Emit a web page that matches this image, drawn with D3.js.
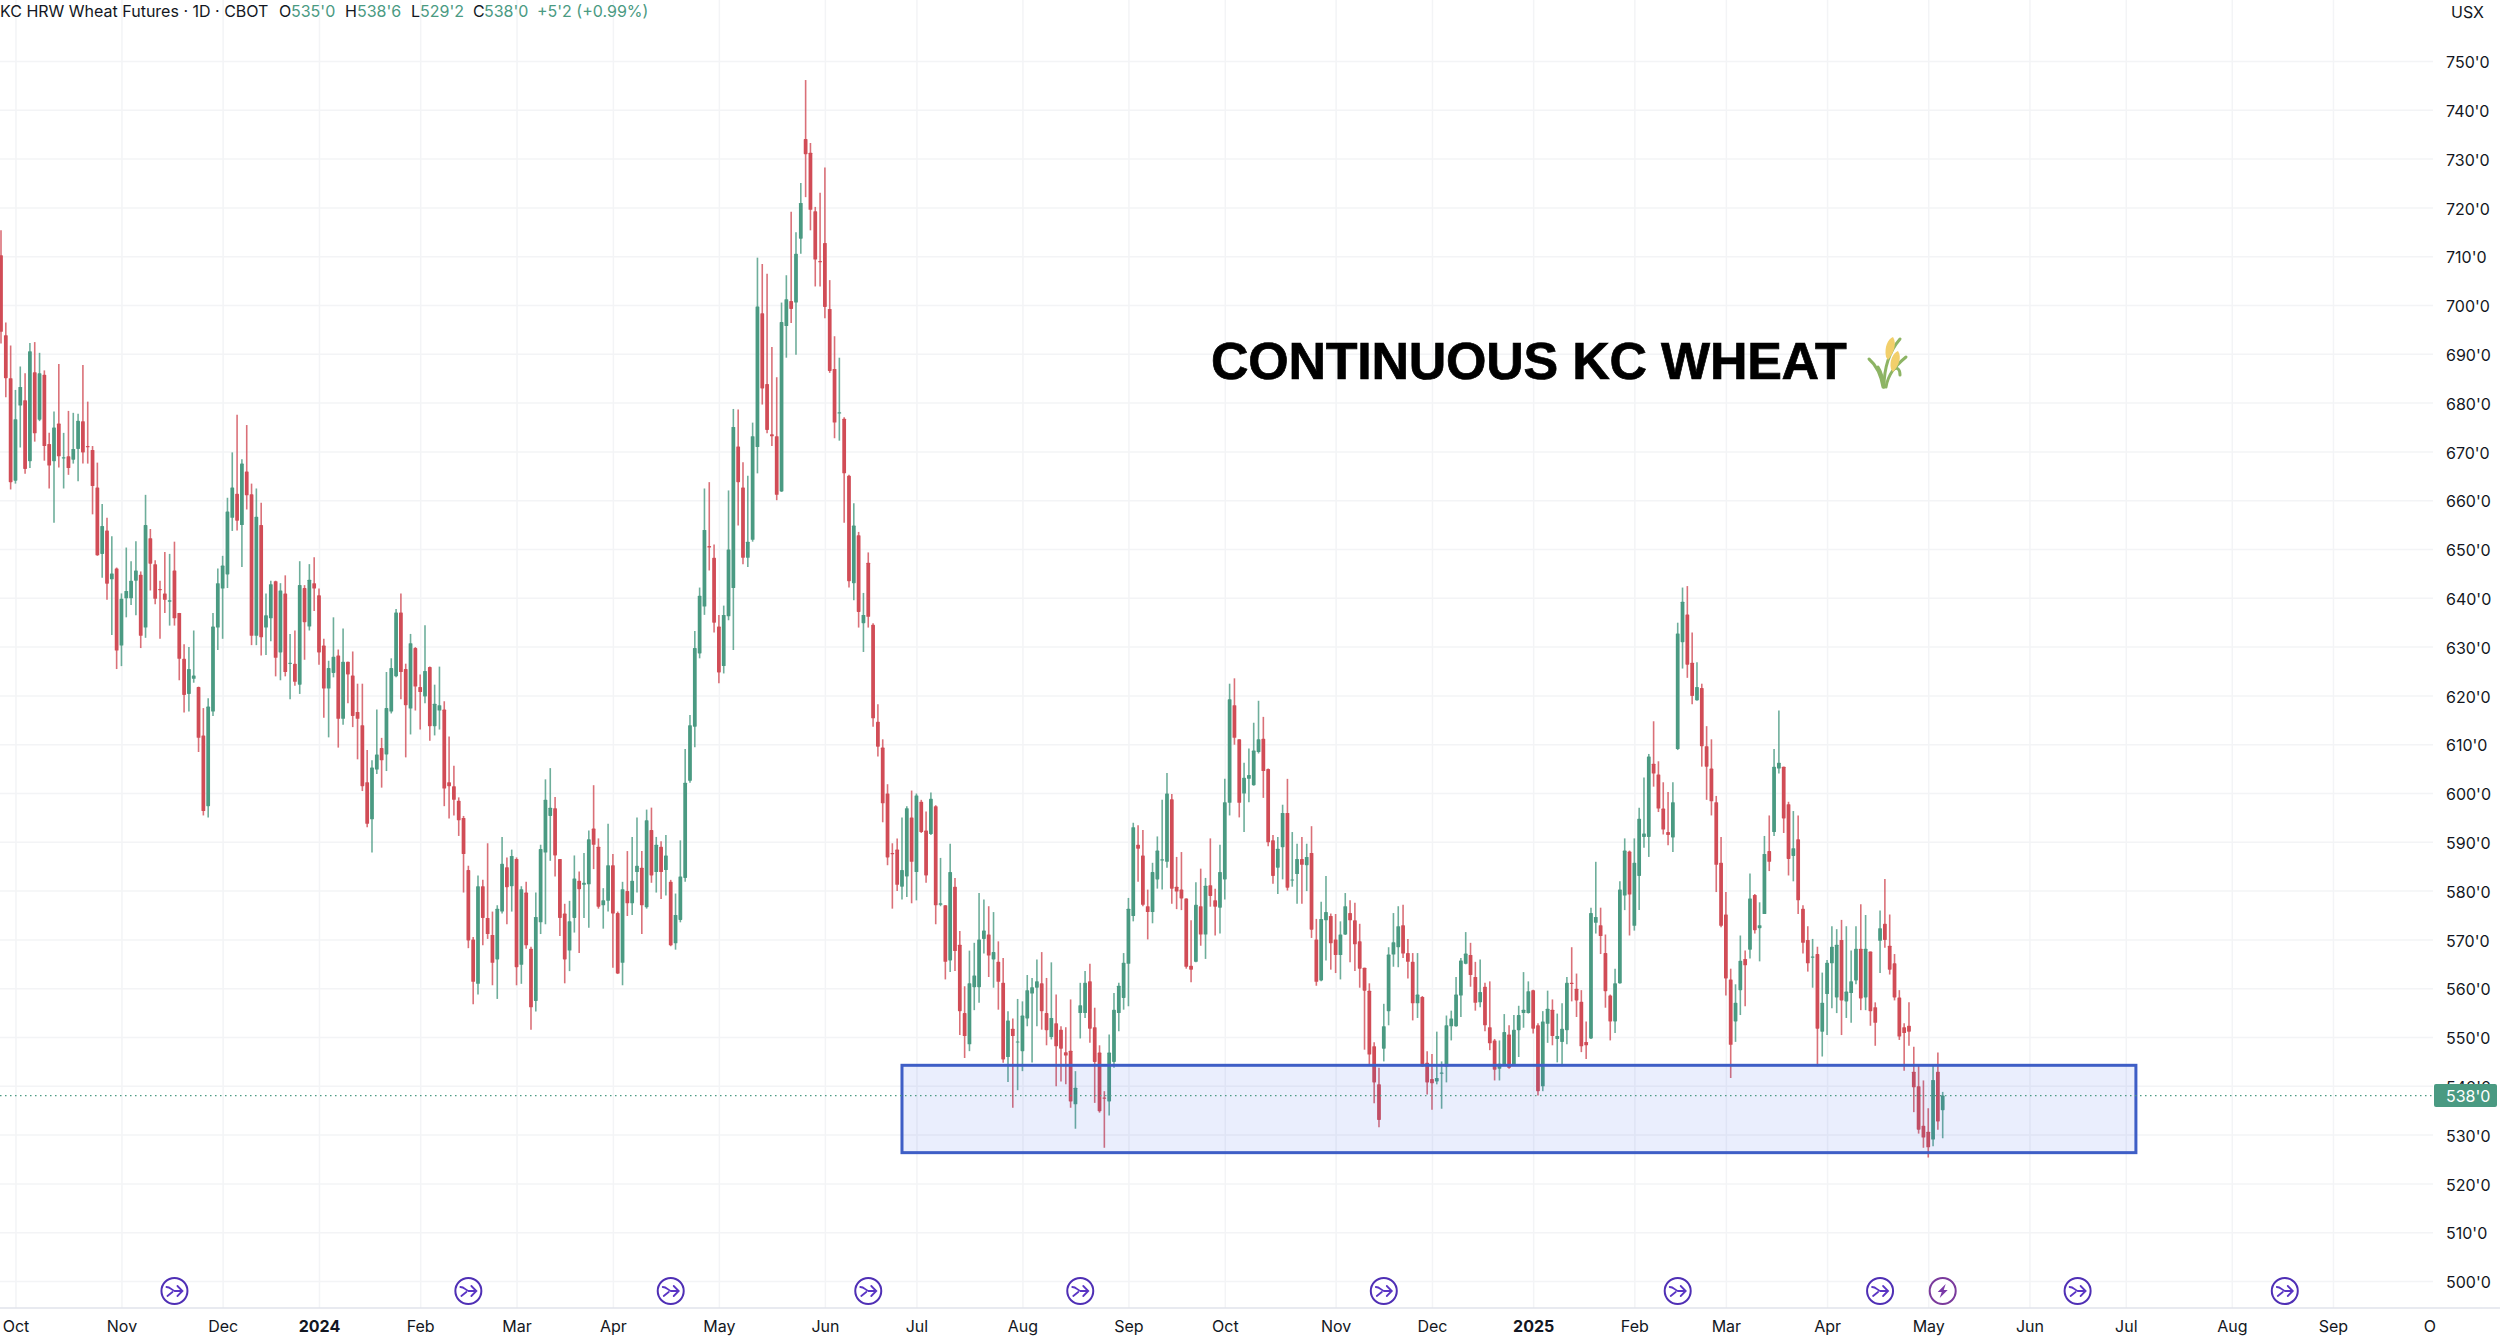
<!DOCTYPE html>
<html>
<head>
<meta charset="utf-8">
<title>Continuous KC Wheat</title>
<script src="https://d3js.org/d3.v7.min.js"></script>
<style>
  html, body { margin: 0; background: #fff; overflow: hidden; }
  svg { display: block; font-family: Inter, "Liberation Sans", sans-serif; }
</style>
</head>
<body>
<svg id="chart" width="2500" height="1339"></svg>
<script>
// daily candles
const opens = [
  710.2,693.8,685.0,664.0,679.4,680.5,668.0,686.2,676.5,685.7,
  671.5,668.0,675.7,668.6,669.0,668.3,670.5,676.2,671.1,670.3,
  662.6,649.0,653.8,643.8,646.0,630.2,639.9,639.9,643.5,644.7,
  633.9,652.2,646.9,641.8,640.9,639.2,645.6,636.9,627.5,620.3,
  623.4,621.7,611.8,597.3,616.7,633.9,641.9,644.8,656.4,661.3,
  654.9,665.9,661.2,632.2,654.9,633.9,635.8,643.4,628.8,640.9,
  626.5,626.5,622.2,642.0,634.1,643.0,640.5,630.2,621.4,624.6,
  628.2,615.2,626.9,624.1,616.6,613.9,602.2,594.6,604.8,609.2,
  607.9,616.7,623.9,637.0,625.4,617.3,629.7,621.7,619.8,625.8,
  613.7,616.9,617.1,602.2,601.4,598.4,594.9,584.2,570.0,560.9,
  580.9,574.4,570.9,565.9,575.7,584.8,580.9,586.5,564.8,579.6,
  568.1,557.4,573.5,587.8,595.3,596.9,586.5,575.3,567.7,574.4,
  582.0,581.2,581.3,592.7,589.0,577.0,577.9,585.2,575.4,565.2,
  579.9,577.4,583.8,584.7,576.6,592.4,583.8,589.0,584.2,581.8,
  569.2,574.0,582.6,602.5,613.6,628.6,638.2,650.6,648.2,634.1,
  626.0,636.2,642.0,671.0,662.6,648.2,651.9,670.9,698.3,683.8,
  673.5,673.1,661.8,695.7,700.8,700.5,713.6,734.0,731.2,719.2,
  709.0,712.7,699.2,686.9,677.8,676.7,665.0,643.0,652.8,634.8,
  647.2,634.5,614.6,609.3,599.9,587.7,588.4,580.8,582.9,595.0,
  583.8,598.2,592.3,591.6,597.3,577.1,577.0,565.7,580.8,568.9,
  554.9,548.5,560.2,560.2,570.1,571.0,565.9,565.4,561.1,545.9,
  551.7,549.0,547.1,553.8,558.9,560.1,561.0,554.9,550.0,552.8,
  551.5,546.9,547.2,536.2,554.9,554.9,561.4,552.0,546.8,537.6,
  536.8,544.9,554.9,558.0,565.0,574.8,589.4,587.2,576.8,575.6,
  582.3,586.2,585.9,598.7,580.8,580.2,578.4,564.6,565.4,576.8,
  571.0,581.1,578.0,576.5,582.3,598.0,618.0,611.0,599.9,602.9,
  601.6,608.4,611.1,604.9,590.3,584.7,588.9,595.9,582.2,583.4,
  586.5,585.2,587.7,570.0,561.6,573.9,574.8,570.0,566.8,571.0,
  575.4,573.9,569.6,564.2,559.5,548.1,540.3,547.6,555.3,566.9,
  568.4,572.9,567.2,565.4,556.9,558.2,544.7,541.4,540.9,542.5,
  543.9,552.2,552.2,558.5,565.0,566.8,562.3,557.1,560.3,552.0,
  549.3,543.5,544.4,550.5,544.2,551.4,554.9,554.9,559.6,552.4,
  539.9,552.7,555.6,549.6,549.0,551.4,561.1,559.9,557.2,549.0,
  549.7,573.4,572.9,567.2,558.5,553.2,561.0,579.0,588.0,572.8,
  583.0,591.0,591.0,606.0,603.8,596.8,592.0,590.9,609.0,630.9,
  636.6,626.7,619.0,621.5,609.6,605.0,598.1,585.7,575.1,561.8,
  553.2,559.6,566.0,567.9,579.1,572.3,575.2,588.1,592.0,605.0,
  605.4,597.7,587.1,590.5,576.3,569.9,566.3,567.0,551.1,558.8,
  565.1,558.1,569.9,557.3,559.0,561.6,568.1,558.1,567.5,556.1,
  569.7,573.2,568.7,565.1,558.1,552.0,552.3,542.9,539.9,531.8,
  530.6,529.0,542.9,535.0
];
const closes = [
  694.5,685.0,663.7,676.6,683.2,666.4,690.5,673.7,686.0,671.1,
  667.1,674.9,669.0,668.8,666.6,670.5,676.3,669.8,670.9,662.9,
  648.7,654.7,642.9,645.0,629.2,639.8,641.4,643.5,645.6,632.2,
  654.9,647.0,639.8,641.6,639.6,639.5,635.8,627.5,620.1,625.4,
  624.1,611.3,596.3,617.7,634.1,643.0,646.6,657.7,662.6,655.8,
  667.5,661.0,632.2,656.6,631.9,636.4,642.8,627.7,641.5,624.8,
  626.7,622.8,642.6,635.0,643.7,641.9,628.8,621.4,625.6,627.9,
  615.2,626.9,624.3,615.8,615.2,601.4,593.7,605.2,607.9,606.7,
  617.4,625.6,637.0,624.8,618.0,630.7,621.8,620.7,625.0,613.7,
  618.3,618.0,600.9,601.4,598.6,594.4,587.5,569.8,561.3,580.9,
  574.4,571.1,565.2,576.3,585.5,580.7,587.1,564.3,580.3,568.8,
  556.1,574.6,588.5,598.6,597.0,587.2,574.4,565.9,573.7,582.5,
  580.3,581.6,590.5,589.4,576.7,578.0,585.2,575.3,563.0,580.3,
  577.4,582.0,585.1,577.0,594.4,583.1,589.4,583.8,587.2,568.8,
  575.0,582.9,602.1,613.9,629.7,640.4,653.9,650.3,634.9,624.7,
  636.5,649.9,675.0,663.7,648.2,651.5,673.1,699.7,682.9,674.4,
  673.1,661.1,696.5,701.2,699.2,710.5,720.9,730.9,719.5,709.3,
  708.8,699.6,686.5,675.9,678.0,665.5,643.4,654.8,637.1,636.5,
  636.1,615.3,609.5,597.9,586.8,587.5,581.2,584.2,596.9,585.9,
  599.5,592.0,583.1,598.8,577.0,577.4,565.4,583.8,567.6,555.3,
  550.2,561.0,562.6,570.0,571.8,566.7,567.4,561.3,545.4,553.4,
  550.2,549.1,554.4,559.6,560.2,561.4,555.3,551.4,553.9,548.1,
  547.6,546.2,536.8,539.6,556.5,561.1,551.7,544.9,534.8,537.5,
  546.8,555.6,560.5,565.2,576.3,593.0,588.6,577.1,575.6,583.8,
  588.2,586.4,599.9,580.4,579.8,578.4,564.4,563.8,577.1,571.0,
  581.0,578.9,576.7,583.8,598.1,619.2,611.3,598.0,603.1,603.7,
  608.7,611.0,604.5,589.9,583.0,588.6,595.9,580.6,582.3,586.5,
  585.3,586.9,572.0,561.3,574.2,575.6,569.2,566.8,571.0,576.8,
  573.9,569.0,564.0,559.5,546.4,540.7,533.0,552.2,566.9,569.4,
  572.7,567.1,565.4,556.9,558.7,544.0,540.7,540.5,541.6,542.7,
  552.4,553.8,558.7,565.7,567.1,562.7,557.0,559.2,552.4,548.7,
  543.3,544.5,551.0,543.7,551.5,554.5,555.6,559.4,551.7,538.9,
  553.2,555.8,550.2,550.2,551.7,561.1,561.0,557.5,548.1,548.3,
  575.4,574.6,570.7,559.4,553.2,561.0,580.2,588.2,579.2,585.7,
  594.7,591.7,607.5,604.0,596.8,592.5,591.4,598.1,632.7,639.2,
  626.3,619.9,621.7,609.6,605.4,598.3,585.3,572.8,562.0,548.4,
  557.0,565.6,564.7,578.4,571.9,572.9,587.5,585.9,605.4,606.2,
  594.8,586.5,588.7,578.0,569.3,565.1,566.5,551.7,557.0,565.2,
  568.5,568.9,557.5,559.3,561.4,568.1,557.9,568.1,555.3,552.9,
  572.3,569.9,563.8,558.1,550.1,550.8,551.1,539.7,531.0,529.4,
  527.4,541.2,532.7,538.0
];
const highs = [
  715.3,696.4,691.7,682.6,687.4,686.0,692.2,692.4,690.2,686.6,
  673.8,678.2,687.9,673.8,678.3,677.9,677.7,687.7,680.2,671.1,
  667.7,659.2,656.4,652.6,646.2,640.9,650.3,647.5,651.6,645.4,
  661.1,654.1,647.7,643.5,649.4,649.0,651.5,636.9,630.5,629.9,
  633.3,621.8,617.4,619.4,636.9,646.0,648.6,660.5,669.8,677.5,
  668.4,675.4,663.4,662.4,659.5,640.9,643.5,643.5,643.0,644.6,
  632.6,633.3,647.5,642.6,646.9,648.3,641.9,631.6,627.1,636.0,
  629.4,633.7,626.9,629.0,622.4,622.4,608.8,606.7,617.1,611.3,
  624.8,627.6,637.7,640.9,626.5,632.6,629.9,624.3,634.4,625.9,
  622.2,625.9,618.8,611.6,605.6,599.1,595.3,585.1,570.5,583.1,
  582.2,589.7,575.7,577.0,591.0,586.8,588.4,586.8,580.9,581.8,
  568.5,579.6,589.4,602.8,605.1,599.2,586.5,577.3,577.9,587.2,
  583.9,587.7,592.3,601.6,590.7,580.5,593.7,587.5,575.7,581.8,
  588.1,591.0,595.0,588.1,596.6,597.0,591.0,590.1,591.4,582.2,
  579.4,590.3,609.0,616.0,633.2,642.1,662.4,663.7,650.9,636.5,
  638.4,662.0,678.7,678.6,667.8,665.0,675.9,709.7,708.4,706.4,
  691.4,685.2,700.5,706.1,719.1,714.9,725.0,746.1,733.2,720.1,
  723.0,728.2,705.1,693.6,689.2,677.0,665.2,659.4,653.5,641.0,
  649.3,634.8,618.2,611.0,601.8,589.7,590.7,595.0,597.3,600.5,
  599.9,598.6,596.2,600.1,597.5,586.7,577.0,589.6,582.6,571.7,
  560.4,567.7,569.3,579.5,578.2,576.8,575.6,569.6,566.2,555.3,
  553.8,557.8,557.3,562.7,562.1,565.9,567.4,562.1,565.3,558.7,
  552.2,552.0,557.7,543.0,561.1,563.5,565.0,556.0,548.3,538.9,
  550.5,559.0,561.1,567.2,578.5,593.9,593.4,592.4,580.2,585.7,
  591.1,598.6,604.1,599.8,586.9,587.9,578.4,573.9,581.7,584.5,
  582.6,590.7,580.4,589.4,602.9,622.4,623.5,611.0,606.2,609.1,
  614.4,618.9,615.6,605.0,591.4,591.0,597.6,602.9,592.0,589.6,
  591.0,589.6,593.2,574.2,577.7,583.0,575.3,575.2,573.7,579.5,
  578.0,577.5,573.2,564.2,561.0,548.9,543.7,556.8,568.4,575.4,
  576.8,577.1,570.1,567.2,567.2,558.4,547.1,546.5,551.1,545.0,
  554.4,555.4,562.3,566.2,571.5,569.3,565.4,565.9,561.1,561.4,
  549.6,549.3,554.7,552.4,554.5,556.4,563.3,561.4,559.7,552.8,
  555.3,559.5,557.7,554.8,556.9,562.3,568.4,563.0,559.6,553.2,
  576.5,585.9,576.5,571.0,558.7,564.0,581.9,590.7,588.2,590.7,
  597.0,603.2,608.0,614.7,606.5,602.2,600.2,602.2,634.9,642.1,
  642.4,632.9,626.8,622.4,613.7,611.0,599.4,591.0,579.7,564.0,
  560.8,570.8,567.7,583.5,579.3,577.6,591.2,595.4,609.0,616.9,
  605.4,598.2,596.3,595.4,577.0,572.7,570.1,568.5,563.2,565.8,
  572.7,572.1,574.0,572.7,567.7,572.7,577.2,575.0,567.5,557.1,
  575.9,582.4,575.1,567.0,559.6,552.8,557.1,548.0,544.2,541.1,
  535.4,544.2,546.8,538.75
];
const lows = [
  692.1,681.1,662.2,663.4,670.8,665.4,666.6,672.0,676.2,668.1,
  662.4,655.4,666.7,662.4,665.2,667.5,663.9,667.5,667.5,657.1,
  648.6,644.1,639.6,632.4,625.4,626.0,636.0,638.5,636.4,629.7,
  631.8,641.5,638.7,631.6,636.9,634.3,634.3,623.1,616.5,616.7,
  622.6,608.4,595.4,595.0,615.8,629.3,631.6,642.0,653.7,653.8,
  646.3,658.1,630.3,630.3,628.2,628.3,631.1,623.9,623.1,623.9,
  619.2,622.0,620.3,627.3,633.3,637.3,626.3,615.4,611.4,623.7,
  609.3,614.0,618.4,613.5,606.9,600.4,593.0,587.8,603.9,601.1,
  604.5,616.3,623.7,619.2,607.3,612.0,616.9,613.0,618.4,610.7,
  611.8,613.0,597.3,594.8,595.4,591.2,579.6,568.2,556.7,558.7,
  568.8,570.1,560.6,557.8,575.3,573.1,575.7,560.6,560.9,568.1,
  551.5,555.2,571.1,573.1,586.1,582.9,570.7,561.0,563.5,571.4,
  567.2,574.4,572.4,584.4,576.3,572.2,575.7,564.2,562.9,560.6,
  574.8,575.0,579.6,571.1,576.3,581.6,579.6,578.3,579.0,568.6,
  567.9,573.5,581.8,602.1,609.4,627.6,636.5,645.6,632.9,622.5,
  624.5,635.4,629.3,654.8,646.9,646.3,651.5,665.5,679.6,673.7,
  671.1,660.0,661.7,689.2,696.3,689.8,710.5,722.1,715.3,703.8,
  703.8,697.3,686.1,672.7,672.2,655.4,642.1,639.5,633.9,628.9,
  633.9,613.6,607.5,594.0,585.2,576.3,579.9,578.2,578.7,577.4,
  578.0,591.8,581.6,591.4,573.1,576.8,561.8,563.3,563.5,550.4,
  545.7,547.1,555.5,557.0,567.1,562.3,560.1,555.6,544.7,540.8,
  535.5,539.1,543.0,552.2,544.8,552.2,551.5,548.3,549.5,539.9,
  540.9,540.3,535.5,531.2,549.7,553.9,548.8,536.5,534.5,527.3,
  533.9,543.7,551.2,555.6,556.3,573.7,581.8,576.8,570.0,573.3,
  580.4,580.2,584.7,577.3,576.2,576.0,564.0,561.2,565.3,568.7,
  566.0,576.7,570.8,571.2,578.2,595.4,609.9,595.0,592.0,598.1,
  601.5,608.1,599.0,589.1,581.4,579.3,582.3,580.0,580.8,577.3,
  577.3,579.9,570.3,560.5,561.4,565.7,563.8,563.1,561.8,570.9,
  565.3,563.5,560.1,547.4,544.4,536.4,531.5,545.0,552.4,564.4,
  564.3,566.2,562.0,553.4,553.9,543.9,538.2,535.1,540.3,535.3,
  540.7,549.3,552.1,554.1,564.9,560.3,555.4,556.1,551.2,547.3,
  541.1,541.1,544.2,543.5,544.1,545.9,551.9,554.8,550.7,538.0,
  538.9,548.8,548.3,544.8,544.0,548.5,557.3,554.1,546.9,545.5,
  549.6,571.2,567.0,556.0,549.3,550.8,560.9,576.0,570.8,571.8,
  576.0,588.8,586.9,601.3,596.1,591.5,589.3,587.9,608.8,625.5,
  623.6,618.2,618.9,605.4,598.6,595.4,579.7,572.5,558.5,541.6,
  549.0,554.5,556.3,566.1,571.2,565.5,575.2,584.0,591.2,604.0,
  591.8,583.1,581.9,575.2,567.1,563.4,560.1,544.0,546.0,550.4,
  555.9,554.9,550.4,553.9,552.9,560.8,555.5,555.5,552.3,548.2,
  563.1,568.3,562.8,557.5,549.4,543.1,548.2,534.6,530.2,527.3,
  525.3,527.6,531.0,529.25
];

// month ticks, given as bar index (the axis runs on past the last bar)
const monthBars = [3, 25, 46, 66, 87, 107, 127, 149, 171, 190, 212, 234, 254, 277, 297, 318, 339, 358, 379, 400, 421, 441, 463, 484, 504];
const monthLabels = ['Oct', 'Nov', 'Dec', '2024', 'Feb', 'Mar', 'Apr', 'May', 'Jun', 'Jul', 'Aug', 'Sep', 'Oct', 'Nov', 'Dec', '2025', 'Feb', 'Mar', 'Apr', 'May', 'Jun', 'Jul', 'Aug', 'Sep', 'O'];
const priceTicks = d3.range(500, 760, 10);

// session break icons along the bottom, the 403 one is the bolt
const eventBars = [36, 97, 139, 180, 224, 287, 348, 390, 403, 431, 474];
const boltBar = 403;

// support box drawn on the chart
const zoneLow = 526.3, zoneHigh = 544.2, zoneFromBar = 187, zoneToBar = 443.1;
const lastPrice = 538;

const UP = '#4a9a82', DOWN = '#d14c56', GRID = '#f3f4f6', INK = '#131722';
const PLOT_R = 2433, AXIS_Y = 1308;

const x = d3.scaleLinear().domain([0, 403]).range([1, 1942.7]);
const y = d3.scaleLinear().domain([500, 750]).range([1281, 61]);
const bodyW = (x(1) - x(0)) * 0.78;

const candles = opens.map((o, i) => ({ i, o, c: closes[i], h: highs[i], l: lows[i] }));
const colour = d => d.c >= d.o ? UP : DOWN;

const svg = d3.select('#chart');

// grid
svg.append('g')
  .attr('transform', `translate(0,${AXIS_Y})`)
  .call(d3.axisBottom(x).tickValues(monthBars.filter(b => b < 504)).tickSize(-AXIS_Y).tickFormat(''))
  .call(g => g.select('.domain').remove())
  .call(g => g.selectAll('line').attr('stroke', GRID).attr('stroke-width', 1.5));

svg.append('g')
  .call(d3.axisLeft(y).tickValues(priceTicks).tickSize(-PLOT_R).tickFormat(''))
  .call(g => g.select('.domain').remove())
  .call(g => g.selectAll('line').attr('stroke', GRID).attr('stroke-width', 1.5));

// candles
const candleG = svg.append('g');
candleG.selectAll('line').data(candles).join('line')
  .attr('x1', d => x(d.i)).attr('x2', d => x(d.i))
  .attr('y1', d => y(d.h)).attr('y2', d => y(d.l))
  .attr('stroke', colour).attr('stroke-width', 1.6).attr('stroke-opacity', 0.8);
candleG.selectAll('rect').data(candles).join('rect')
  .attr('x', d => x(d.i) - bodyW / 2)
  .attr('width', bodyW)
  .attr('y', d => y(Math.max(d.o, d.c)))
  .attr('height', d => Math.max(1.2, y(Math.min(d.o, d.c)) - y(Math.max(d.o, d.c))))
  .attr('rx', 0.6)
  .attr('fill', colour);

// support zone
svg.append('rect')
  .attr('x', x(zoneFromBar)).attr('width', x(zoneToBar) - x(zoneFromBar))
  .attr('y', y(zoneHigh)).attr('height', y(zoneLow) - y(zoneHigh))
  .attr('fill', '#2f5cf0').attr('fill-opacity', 0.1)
  .attr('stroke', '#3e5ec6').attr('stroke-width', 3);

// last price line
svg.append('line')
  .attr('x1', 0).attr('x2', PLOT_R)
  .attr('y1', y(lastPrice)).attr('y2', y(lastPrice))
  .attr('stroke', UP).attr('stroke-width', 1.3).attr('stroke-dasharray', '1.5 3.5');

// price axis
const priceAxis = svg.append('g')
  .attr('transform', 'translate(2446,0)')
  .call(d3.axisRight(y).tickValues(priceTicks).tickSize(0).tickPadding(0).tickFormat(d => `${d}'0`));
priceAxis.select('.domain').remove();
priceAxis.selectAll('text')
  .attr('font-size', 16).attr('font-family', 'Inter, sans-serif').attr('fill', INK)
  .attr('dy', '0.42em');

// time axis
const timeAxis = svg.append('g')
  .attr('transform', `translate(0,${AXIS_Y})`)
  .call(d3.axisBottom(x).tickValues(monthBars).tickSize(0).tickPadding(13).tickFormat((d, i) => monthLabels[i]));
timeAxis.select('.domain').remove();
timeAxis.selectAll('text')
  .attr('font-size', 16).attr('font-family', 'Inter, sans-serif').attr('fill', INK)
  .attr('font-weight', (d, i) => /^\d+$/.test(monthLabels[i]) ? 700 : 400);

svg.append('line')
  .attr('x1', 0).attr('x2', 2500).attr('y1', AXIS_Y).attr('y2', AXIS_Y)
  .attr('stroke', '#e0e3eb').attr('stroke-width', 1.5);

// last price tag covers the 540 label
svg.append('rect')
  .attr('x', 2434).attr('width', 63)
  .attr('y', y(lastPrice) - 11.5).attr('height', 23)
  .attr('rx', 2).attr('fill', UP);
svg.append('text')
  .attr('x', 2446).attr('y', y(lastPrice)).attr('dy', '0.38em')
  .attr('font-size', 16).attr('fill', '#fff')
  .text(`${lastPrice}'0`);

svg.append('text')
  .attr('x', 2451).attr('y', 12).attr('dy', '0.38em')
  .attr('font-size', 16).attr('fill', INK).text('USX');

// header legend
const legend = [
  ['KC HRW Wheat Futures · 1D · CBOT', 0, INK],
  ['O', 279, INK], ["535'0", 291, UP],
  ['H', 345, INK], ["538'6", 357, UP],
  ['L', 411, INK], ["529'2", 420, UP],
  ['C', 473, INK], ["538'0", 484, UP],
  ["+5'2 (+0.99%)", 537, UP]
];
svg.append('g').selectAll('text').data(legend).join('text')
  .attr('x', d => d[1]).attr('y', 11.5).attr('dy', '0.35em')
  .attr('font-size', 16).attr('fill', d => d[2])
  .text(d => d[0]);

// title
svg.append('text')
  .attr('x', 1211).attr('y', 379)
  .attr('font-size', 52).attr('font-weight', 700)
  .attr('font-family', '"Liberation Sans", Arial, sans-serif')
  .attr('letter-spacing', -0.25)
  .attr('fill', '#000').attr('stroke', '#000').attr('stroke-width', 0.7)
  .text('CONTINUOUS KC WHEAT');

// sheaf of wheat, no emoji font on the box
const wheat = svg.append('g').attr('transform', 'translate(1864,337)').attr('fill', 'none');
wheat.selectAll('path.stem')
  .data(['M20,50 C20,34 24,16 36,2', 'M19,50 C17,38 12,28 5,22', 'M22,50 C24,38 30,30 42,20', 'M20,50 C19,42 18,36 14,30', 'M30,32 C33,30 36,32 36,38'])
  .join('path').attr('class', 'stem').attr('d', d => d)
  .attr('stroke', '#8db464').attr('stroke-width', 3).attr('stroke-linecap', 'round');
wheat.selectAll('path.grain')
  .data(['M22,20 C20,10 24,2 29,0 C33,6 30,16 24,23 Z', 'M27,32 C25,24 29,16 34,14 C38,20 35,29 29,35 Z'])
  .join('path').attr('class', 'grain').attr('d', d => d)
  .attr('fill', '#f2cf6b');

// event icons
const iconY = y(500) + 10;
const icons = svg.append('g').selectAll('g').data(eventBars).join('g')
  .attr('transform', d => `translate(${x(d)},${iconY})`);
icons.append('circle')
  .attr('r', 13).attr('fill', '#fff')
  .attr('stroke', d => d === boltBar ? '#7a3a9c' : '#4f2fb5').attr('stroke-width', 2);
icons.filter(d => d !== boltBar).append('path')
  .attr('d', 'M-8,-4 C-4,-4 -3,-1 0,0 L8,0 M3,-5 L8,0 L3,5 M-7,5 L-2,1')
  .attr('fill', 'none').attr('stroke', '#5a35c4').attr('stroke-width', 1.8).attr('stroke-linecap', 'round');
icons.filter(d => d === boltBar).append('path')
  .attr('d', 'M3,-7 L-5,1 L-1,1 L-3,7 L5,-1 L1,-1 Z')
  .attr('fill', '#7a3aa8');
</script>
</body>
</html>
